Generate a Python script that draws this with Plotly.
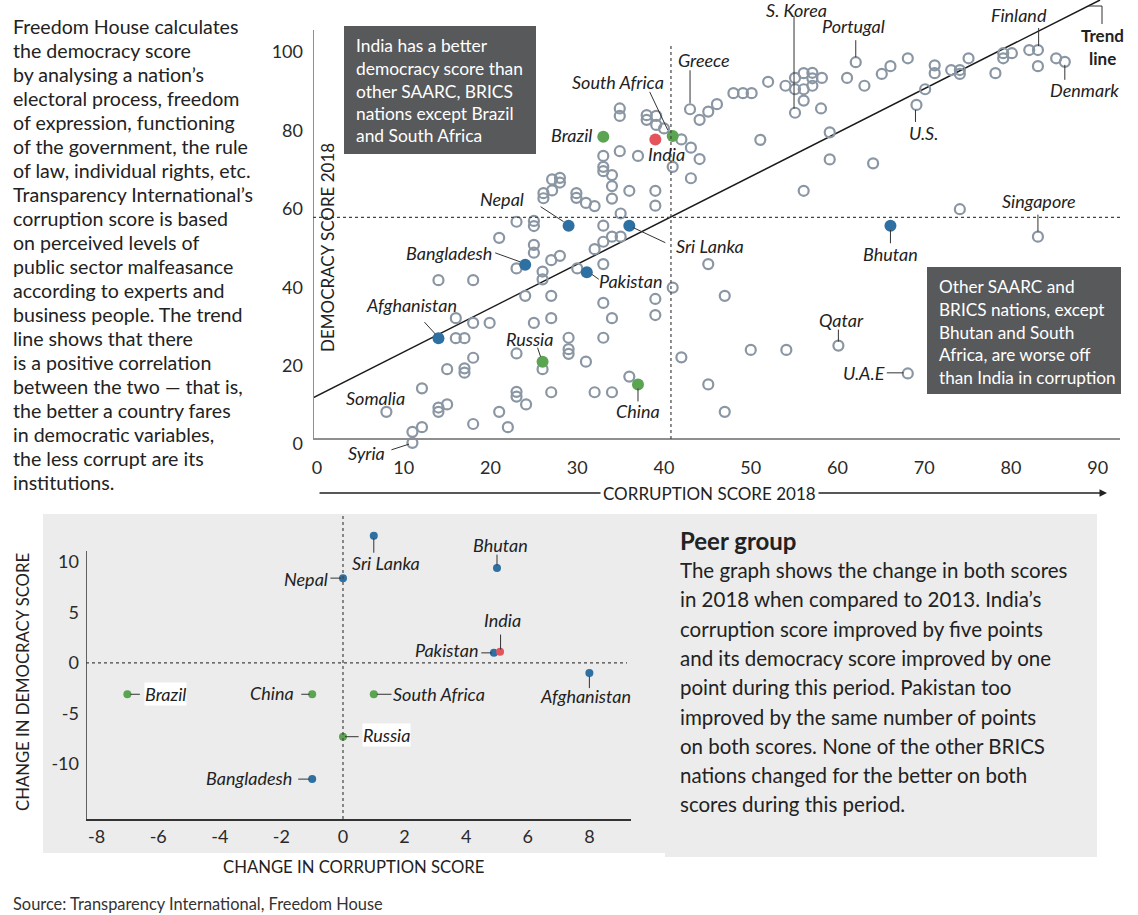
import plotly.graph_objects as go

W, H = 1138, 915
FONT = "Lato"
INK = "#222222"
RING = "#8a96a3"
BLUE = "#2f70a3"
GREEN = "#5aa452"
RED = "#e5545d"
BOX = "#58595b"
PANEL = "#ececec"

# ---------------- data: 2018 scores (top chart) ----------------
other_corruption = [
    27.1, 28.0, 28.0, 26.1, 27.1, 26.1, 23.0, 25.0, 25.0, 21.0, 25.0, 25.0, 27.0, 28.0, 23.0, 26.0,
    26.0, 14.0, 18.0, 24.0, 27.0, 16.0, 18.0, 19.9, 25.0, 27.0, 16.0, 17.0, 23.0, 18.0, 15.0, 17.0,
    17.0, 26.0, 12.1, 23.0, 23.0, 27.0, 24.1, 15.0, 14.0, 14.0, 21.0, 18.0, 22.0, 12.1, 11.0,
    29.9, 29.9, 31.0, 32.0, 33.0, 33.0, 33.0, 34.0, 34.0, 34.0, 34.9, 34.9, 34.9, 35.0, 36.0, 37.0,
    38.0, 38.0, 39.1, 39.1, 40.0, 39.0, 39.0, 33.0, 34.0, 35.0, 33.0, 32.0, 30.0, 33.0, 33.0, 39.0,
    39.0, 34.0, 29.0, 29.0, 29.0, 33.0, 31.0, 36.0, 32.0, 34.0, 41.0, 42.0, 45.1, 47.0, 45.1, 47.0,
    44.1, 45.1, 46.1, 48.0, 42.0, 43.1, 44.1, 41.0, 43.1, 49.1, 50.1, 52.0, 51.1, 54.0, 55.1, 55.1,
    56.1, 57.1, 57.1, 57.1, 56.1, 58.2, 56.1, 58.1, 59.1, 59.1, 64.1, 56.1, 61.1, 63.1, 65.1, 66.1,
    68.1, 71.2, 71.2, 70.1, 50.0, 54.1, 73.1, 74.1, 74.1, 75.1, 78.2, 79.1, 79.1, 80.1, 82.1, 83.1,
    85.2, 74.1,
]
other_democracy = [
    67.5, 66.7, 67.9, 64.0, 64.7, 62.7, 56.7, 56.9, 55.6, 52.6, 50.8, 48.8, 46.9, 48.0, 44.8, 44.0,
    42.0, 41.8, 41.8, 37.8, 37.8, 32.1, 30.9, 30.9, 30.9, 32.1, 27.0, 27.0, 23.1, 22.0, 19.1, 19.3,
    18.2, 19.1, 14.2, 13.3, 12.1, 13.2, 10.1, 10.1, 9.3, 8.2, 8.2, 5.1, 4.3, 4.3, 3.1,
    64.0, 62.8, 61.5, 60.7, 73.5, 70.7, 69.6, 68.6, 65.8, 62.6, 85.6, 83.7, 74.7, 58.8, 64.6, 73.5,
    83.9, 82.7, 83.7, 81.4, 80.5, 64.6, 60.8, 55.7, 52.9, 52.9, 51.6, 49.7, 44.8, 45.9, 36.0, 37.0,
    32.9, 32.1, 27.1, 24.2, 23.0, 27.1, 21.0, 17.2, 13.2, 13.2, 39.9, 22.1, 45.9, 37.8, 15.2, 8.2,
    82.7, 84.8, 86.7, 89.5, 77.7, 75.6, 72.7, 70.7, 67.8, 89.5, 89.5, 92.4, 77.6, 91.4, 93.4, 90.5,
    94.6, 94.7, 93.3, 91.4, 90.5, 93.4, 87.6, 85.6, 79.5, 72.6, 71.6, 64.6, 93.4, 91.4, 94.4, 96.4,
    98.4, 96.6, 94.6, 90.5, 24.0, 24.0, 95.4, 95.4, 94.4, 98.4, 94.6, 99.7, 98.4, 99.7, 100.5, 96.4,
    98.4, 59.9,
]

named_countries = ["Greece", "S. Korea", "Portugal", "U.S.", "Finland", "Denmark",
                   "Singapore", "Qatar", "U.A.E", "Somalia", "Syria"]
named_corruption = [43.0, 55.1, 62.1, 69.1, 83.1, 86.2, 83.1, 60.1, 68.1, 8.0, 11.0]
named_democracy = [85.4, 84.5, 97.4, 86.5, 100.5, 97.5, 52.9, 25.1, 18.0, 8.2, 0.3]

peer_countries = ["India", "Brazil", "South Africa", "Russia", "China", "Nepal",
                  "Sri Lanka", "Bangladesh", "Pakistan", "Afghanistan", "Bhutan"]
peer_group = ["India", "BRICS", "BRICS", "BRICS", "BRICS", "SAARC",
              "SAARC", "SAARC", "SAARC", "SAARC", "SAARC"]
peer_corruption = [39.0, 33.0, 41.0, 26.0, 37.0, 29.0, 36.0, 24.0, 31.1, 14.0, 66.1]
peer_democracy = [77.7, 78.4, 78.6, 21.0, 15.2, 55.7, 55.7, 45.7, 43.8, 27.0, 55.7]

avg_corruption = 40.8
avg_democracy = 57.8
trend_intercept = 12.3
trend_slope = 1.1187

top_x_ticks = [0, 10, 20, 30, 40, 50, 60, 70, 80, 90]
top_y_ticks = [0, 20, 40, 60, 80, 100]

# ---------------- data: change 2013 -> 2018 (bottom chart) ----------------
change_countries = ["Sri Lanka", "Bhutan", "Nepal", "Pakistan", "India", "Afghanistan",
                    "Brazil", "China", "South Africa", "Russia", "Bangladesh"]
change_group = ["SAARC", "SAARC", "SAARC", "SAARC", "India", "SAARC",
                "BRICS", "BRICS", "BRICS", "BRICS", "SAARC"]
change_corruption = [1.0, 5.0, 0.0, 4.9, 5.1, 8.0, -7.0, -1.0, 1.0, 0.0, -1.0]
change_democracy = [12.6, 9.4, 8.4, 1.0, 1.1, -1.0, -3.1, -3.1, -3.1, -7.3, -11.5]

bottom_x_ticks = [-8, -6, -4, -2, 0, 2, 4, 6, 8]
bottom_y_ticks = [-10, -5, 0, 5, 10]

group_colors = {"India": RED, "BRICS": GREEN, "SAARC": BLUE}


# ---------------- layout geometry (pixels) ----------------
def px(x):
    return x / W


def py(y):
    return 1 - y / H


TOP_L, TOP_R, TOP_T, TOP_B = 313, 1120, 0, 455
TOP_XR = [-0.461, 92.56]
TOP_YR = [-2.806, 113.27]
BOT_L, BOT_R, BOT_T, BOT_B = 86, 631, 513, 819
BOT_XR = [-8.344, 9.351]
BOT_YR = [-15.45, 14.85]

top_sx = (TOP_R - TOP_L) / (TOP_XR[1] - TOP_XR[0])
top_sy = (TOP_B - TOP_T) / (TOP_YR[1] - TOP_YR[0])
bot_sx = (BOT_R - BOT_L) / (BOT_XR[1] - BOT_XR[0])
bot_sy = (BOT_B - BOT_T) / (BOT_YR[1] - BOT_YR[0])


def top_y_at(pix):
    return TOP_YR[0] + (TOP_B - pix) / top_sy


def bot_y_at(pix):
    return BOT_YR[0] + (BOT_B - pix) / bot_sy


fig = go.Figure()

# ---------------- background panels / boxes ----------------
fig.add_shape(type="rect", xref="paper", yref="paper", x0=px(43), x1=px(665), y0=py(853), y1=py(514),
              fillcolor=PANEL, line_width=0, layer="below")
fig.add_shape(type="rect", xref="paper", yref="paper", x0=px(665), x1=px(1097), y0=py(857), y1=py(514),
              fillcolor=PANEL, line_width=0, layer="below")
fig.add_shape(type="rect", xref="paper", yref="paper", x0=px(344), x1=px(536), y0=py(154), y1=py(26),
              fillcolor=BOX, line_width=0, layer="below")
fig.add_shape(type="rect", xref="paper", yref="paper", x0=px(927), x1=px(1121), y0=py(394), y1=py(267),
              fillcolor=BOX, line_width=0, layer="below")

# ---------------- top chart: axes lines, reference lines ----------------
x_axis_val = top_y_at(439)
fig.add_shape(type="line", xref="x", yref="y", x0=TOP_XR[0], x1=TOP_XR[1], y0=x_axis_val, y1=x_axis_val,
              line=dict(color="#8f8f8f", width=2))
fig.add_shape(type="line", xref="x", yref="y", x0=TOP_XR[0], x1=TOP_XR[0], y0=x_axis_val,
              y1=top_y_at(30), line=dict(color="#8f8f8f", width=2))
fig.add_shape(type="line", xref="x", yref="y", x0=avg_corruption, x1=avg_corruption, y0=x_axis_val,
              y1=top_y_at(45), line=dict(color="#444", width=1.2, dash="dot"))
fig.add_shape(type="line", xref="x", yref="y", x0=TOP_XR[0], x1=TOP_XR[1], y0=avg_democracy, y1=avg_democracy,
              line=dict(color="#444", width=1.2, dash="dot"))

# trend line
trend_x = [TOP_XR[0], (TOP_YR[1] - trend_intercept) / trend_slope]
trend_y = [trend_intercept + trend_slope * v for v in trend_x]
fig.add_trace(go.Scatter(x=trend_x, y=trend_y, mode="lines", line=dict(color="#1a1a1a", width=1.5),
                         xaxis="x", yaxis="y", hoverinfo="skip"))

# hollow markers
fig.add_trace(go.Scatter(x=other_corruption + named_corruption, y=other_democracy + named_democracy,
                         mode="markers", xaxis="x", yaxis="y",
                         marker=dict(size=10, color="rgba(255,255,255,0)", line=dict(color=RING, width=2.2)),
                         cliponaxis=False, hoverinfo="skip"))
# highlighted peers
fig.add_trace(go.Scatter(x=peer_corruption, y=peer_democracy, mode="markers", xaxis="x", yaxis="y",
                         marker=dict(size=12, color=[group_colors[g] for g in peer_group], line_width=0),
                         cliponaxis=False, hoverinfo="skip"))

# ---------------- bottom chart: axes lines, reference lines ----------------
fig.add_shape(type="line", xref="x2", yref="y2", x0=BOT_XR[0], x1=BOT_XR[0], y0=BOT_YR[0],
              y1=bot_y_at(551), line=dict(color="#333", width=1.5))
fig.add_shape(type="line", xref="x2", yref="y2", x0=0, x1=0, y0=BOT_YR[0],
              y1=BOT_YR[1], line=dict(color="#444", width=1.2, dash="dot"))
fig.add_shape(type="line", xref="x2", yref="y2", x0=BOT_XR[0], x1=BOT_XR[0] + (627 - BOT_L) / bot_sx,
              y0=0, y1=0, line=dict(color="#444", width=1.2, dash="dot"))

fig.add_trace(go.Scatter(x=change_corruption, y=change_democracy, mode="markers", xaxis="x2", yaxis="y2",
                         marker=dict(size=8, color=[group_colors[g] for g in change_group], line_width=0),
                         cliponaxis=False, hoverinfo="skip"))


# ---------------- labels with leader lines ----------------
def label(xa, ya, x, y, text, shift, lead, sx, sy, bg=None):
    fig.add_annotation(x=x, y=y, xref=xa, yref=ya, text="<i>" + text + "</i>", showarrow=False,
                       xanchor="center", yanchor="middle",
                       xshift=shift[0], yshift=-shift[1], font=dict(family=FONT, size=18, color=INK),
                       bgcolor=bg, borderpad=0)
    if lead:
        (a, b), (c, d) = lead
        fig.add_shape(type="line", xref=xa, yref=ya, x0=x + a / sx, y0=y - b / sy, x1=x + c / sx, y1=y - d / sy,
                      line=dict(color="#333", width=1))


top_label_layout = {
    "Greece": ((14, -49), ((0, -6), (0, -39))),
    "S. Korea": ((1, -103), ((-1, -97), (-1, -4))),
    "Portugal": ((-2, -36), ((0, -22), (0, -5))),
    "U.S.": ((7, 28), ((-1, 5), (-1, 17))),
    "Finland": ((-19, -35), ((0.7, -22), (0.7, -4))),
    "Denmark": ((20, 28), ((0, 3), (0, 18))),
    "Singapore": ((1, -36), ((0, -22), (0, -5))),
    "Qatar": ((3, -26), ((0, -16), (0, -4))),
    "U.A.E": ((-44, -0.6), ((-21, -0.6), (-4.4, -0.6))),
    "Somalia": ((-11, -14), None),
    "Syria": ((-46, 10), ((-21, 7), (-3.4, 1.3))),
    "India": ((11, 15), None),
    "Brazil": ((-32, -2), None),
    "South Africa": ((-55, -54), ((-23, -44), (-5, -6))),
    "Russia": ((-13, -23), ((-5, -14), (-2, -5))),
    "China": ((0, 27), ((0, 4), (0, 17))),
    "Nepal": ((-67, -27), ((-28, -19), (-5, -4))),
    "Sri Lanka": ((81, 20), ((4, 2), (36, 17))),
    "Bangladesh": ((-76, -12), ((-30, -12), (-5, -3))),
    "Pakistan": ((44, 9), ((5, 2), (12, 7))),
    "Afghanistan": ((-27, -33), ((-14, -16), (-3, -4))),
    "Bhutan": ((0, 28), ((0, 4.3), (0, 17.6))),
}
for n, cx, cy in zip(named_countries + peer_countries, named_corruption + peer_corruption,
                     named_democracy + peer_democracy):
    shift, lead = top_label_layout[n]
    label("x", "y", cx, cy, n, shift, lead, top_sx, top_sy)

bottom_label_layout = {
    "Sri Lanka": ((12, 27), ((0, 2.6), (0, 17))),
    "Bhutan": ((3.4, -22.7), ((0, -13.4), (0, -2.7))),
    "Nepal": ((-36.5, 0.7), ((-12.6, 0), (-2, 0))),
    "India": ((2, -31.6), ((0.5, -17.3), (0.5, -2.3))),
    "Pakistan": ((-47, -2.6), ((-12.6, 0), (-2, 0))),
    "Afghanistan": ((-3.5, 23.4), ((0, 3.4), (0, 15))),
    "Brazil": ((38.5, 0), ((3, 0), (12.5, 0))),
    "China": ((-40.4, -1), ((-10.9, 0), (-2.6, 0))),
    "South Africa": ((65, 0), ((3, 0), (17.7, 0))),
    "Russia": ((43.6, -1.7), ((2, 0), (15.6, 0))),
    "Bangladesh": ((-63, -1.3), ((-14, 0), (-2.6, 0))),
}
for n, cx, cy in zip(change_countries, change_corruption, change_democracy):
    shift, lead = bottom_label_layout[n]
    label("x2", "y2", cx, cy, n, shift, lead, bot_sx, bot_sy,
          bg="white" if n in ("Brazil", "Russia") else None)


# ---------------- text blocks ----------------
def text(x, y, t, size, color=INK, xanchor="center", angle=0, bg=None, pad=0, yanchor="middle"):
    fig.add_annotation(xref="paper", yref="paper", x=px(x), y=py(y), text=t, showarrow=False,
                       xanchor=xanchor, yanchor=yanchor, textangle=angle, bgcolor=bg, borderpad=pad,
                       font=dict(family=FONT, size=size, color=color))


def lines(text_lines, left, first, step, size, color=INK):
    for i, t in enumerate(text_lines):
        text(left, first + i * step, t, size, color=color, xanchor="left")


intro = ["Freedom House calculates", "the democracy score", "by analysing a nation’s",
         "electoral process, freedom", "of expression, functioning", "of the government, the rule",
         "of law, individual rights, etc.", "Transparency International’s", "corruption score is based",
         "on perceived levels of", "public sector malfeasance", "according to experts and",
         "business people. The trend", "line shows that there", "is a positive correlation",
         "between the two — that is,", "the better a country fares", "in democratic variables,",
         "the less corrupt are its", "institutions."]
lines(intro, 12, 26, 24.03, 19.6)

box1 = ["India has a better", "democracy score than", "other SAARC, BRICS", "nations except Brazil",
        "and South Africa"]
lines(box1, 355, 46, 22.5, 17.4, color="white")

box2 = ["Other SAARC and", "BRICS nations, except", "Bhutan and South", "Africa, are worse off",
        "than India in corruption"]
lines(box2, 938, 287, 22.5, 17.2, color="white")

text(679, 540, "<b>Peer group</b>", 24, xanchor="left")
peer_text = ["The graph shows the change in both scores", "in 2018 when compared to 2013. India’s",
             "corruption score improved by five points", "and its democracy score improved by one",
             "point during this period. Pakistan too", "improved by the same number of points",
             "on both scores. None of the other BRICS", "nations changed for the better on both",
             "scores during this period."]
lines(peer_text, 679, 570, 29.3, 20.5)

# axis titles
text(327, 248, "DEMOCRACY SCORE 2018", 17, angle=-90)
fig.add_annotation(xref="paper", yref="paper", x=px(1107), y=py(493), ax=-789, ay=0, text="", showarrow=True,
                   arrowhead=2, arrowsize=1, arrowwidth=1.5, arrowcolor=INK)
text(709, 493, "CORRUPTION SCORE 2018", 17, bg="white", pad=2)
text(1102, 47, "<b>Trend</b>", 17, yanchor="bottom")
text(1102, 47, "<b>line</b>", 17, yanchor="top")
fig.add_shape(type="path", xref="paper", yref="paper",
              path=f"M {px(1088)},{py(6)} L {px(1102)},{py(6)} L {px(1102)},{py(24)}",
              line=dict(color="#333", width=1))

text(23, 682, "CHANGE IN DEMOCRACY SCORE", 16.7, angle=-90)
text(353, 867, "CHANGE IN CORRUPTION SCORE", 16.7)
text(12, 903, "Source: Transparency International, Freedom House", 16.4, color="#333", xanchor="left")

tick_font = dict(family=FONT, size=18, color="#2a2a2a")
fig.update_layout(
    width=W, height=H, margin=dict(l=0, r=0, t=0, b=0), autosize=False,
    paper_bgcolor="white", plot_bgcolor="rgba(0,0,0,0)", showlegend=False,
    font=dict(family=FONT, color=INK),
    xaxis=dict(domain=[px(TOP_L), px(TOP_R)], range=TOP_XR, tickvals=top_x_ticks, showgrid=False,
               zeroline=False, showline=False, ticks="", tickfont=tick_font, ticklabelstandoff=0,
               anchor="y", fixedrange=True),
    yaxis=dict(domain=[py(TOP_B), py(TOP_T)], range=TOP_YR, tickvals=top_y_ticks, showgrid=False,
               zeroline=False, showline=False, ticks="", tickfont=tick_font, ticklabelstandoff=9,
               anchor="x", fixedrange=True),
    xaxis2=dict(domain=[px(BOT_L), px(BOT_R)], range=BOT_XR, tickvals=bottom_x_ticks,
                ticktext=[str(v) for v in bottom_x_ticks], showgrid=False,
                zeroline=False, showline=True, linecolor="#333", linewidth=1.5, ticks="", tickfont=tick_font,
                ticklabelstandoff=1, anchor="y2", fixedrange=True),
    yaxis2=dict(domain=[py(BOT_B), py(BOT_T)], range=BOT_YR, tickvals=bottom_y_ticks,
                ticktext=[str(v) for v in bottom_y_ticks], showgrid=False,
                zeroline=False, showline=False, ticks="", tickfont=tick_font,
                ticklabelstandoff=6, anchor="x2", fixedrange=True),
)

fig.write_html("out.html", config={"displayModeBar": False},
               post_script="document.body.style.margin='0';document.body.style.padding='0';")
